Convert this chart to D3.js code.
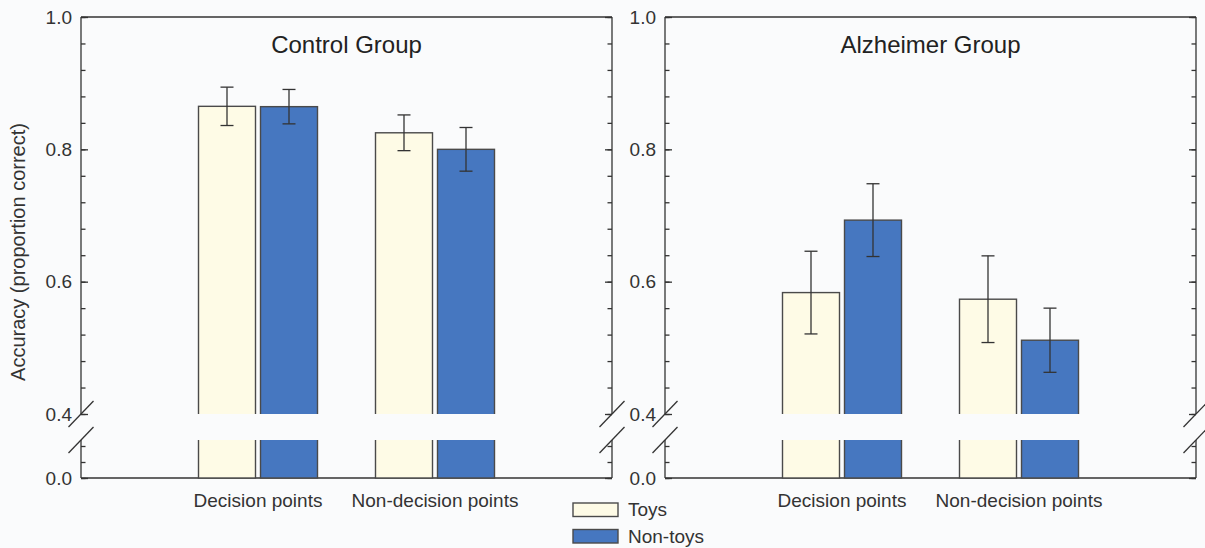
<!DOCTYPE html>
<html>
<head>
<meta charset="utf-8">
<script src="https://cdn.jsdelivr.net/npm/d3@7"></script>
<style>
  body { margin: 0; background: #fafbfc; }
  svg { display: block; font-family: "Liberation Sans", Arial, sans-serif; }
</style>
</head>
<body>
<div id="chart"></div>
<script>
// data
const categories = ["Decision points", "Non-decision points"];
const conditions = ["Toys", "Non-toys"];
const panelTitles = ["Control Group", "Alzheimer Group"];

const controlToys = [0.865, 0.825];
const controlToysErr = [0.029, 0.027];
const controlNonToys = [0.8645, 0.800];
const controlNonToysErr = [0.026, 0.033];

const alzToys = [0.5835, 0.5735];
const alzToysErr = [0.0625, 0.0655];
const alzNonToys = [0.693, 0.5115];
const alzNonToysErr = [0.055, 0.0485];

const majorTicks = [0.4, 0.6, 0.8, 1.0];
const minorTicks = d3.range(0.4, 1.0001, 0.04);
const lowerTicks = [0.0, 0.04, 0.08];
const lowerMajor = [0.0];

const colors = { "Toys": "#fefbe6", "Non-toys": "#4677c0" };

const panels = [
    { title: panelTitles[0], x0: 81, series: { "Toys": [controlToys, controlToysErr], "Non-toys": [controlNonToys, controlNonToysErr] } },
    { title: panelTitles[1], x0: 665, series: { "Toys": [alzToys, alzToysErr], "Non-toys": [alzNonToys, alzNonToysErr] } }
];

const W = 1205, H = 548;
const panelW = 531;
const yTop = 17, yBottom = 478;
const breakTop = 414, breakBottom = 440;
const ink = "#333";
const bg = "#fafbfc";

const svg = d3.select("#chart").append("svg")
    .attr("width", W).attr("height", H);

// broken y axis: upper 0.4-1.0, lower 0-0.095
const yUp = d3.scaleLinear().domain([0.4, 1.0]).range([breakTop, yTop]);
const yLow = d3.scaleLinear().domain([0, 0.095]).range([yBottom, breakBottom]);

const x = d3.scalePoint().domain(categories).range([0, panelW]).padding(1);
const xSub = d3.scaleBand().domain(conditions).range([-59.5, 59.5]).paddingInner(0.0806);

panels.forEach(p => {
    const g = svg.append("g").attr("transform", `translate(${p.x0},0)`);

    // top + bottom frame
    g.append("line").attr("x1", 0).attr("x2", panelW).attr("y1", yTop).attr("y2", yTop)
        .attr("stroke", ink).attr("stroke-width", 1.3);
    g.append("line").attr("x1", 0).attr("x2", panelW).attr("y1", yBottom).attr("y2", yBottom)
        .attr("stroke", ink).attr("stroke-width", 1.3);

    // left and right axes
    [0, panelW].forEach((xx, side) => {
        const mk = s => side === 0 ? d3.axisLeft(s) : d3.axisRight(s);
        const ag = g.append("g").attr("transform", `translate(${xx},0)`);

        ag.append("g")
            .call(mk(yUp).tickValues(minorTicks).tickSize(-4.5).tickFormat(""))
            .call(a => a.select(".domain").remove());
        ag.append("g")
            .call(mk(yUp).tickValues(majorTicks).tickSize(-7).tickPadding(9)
                .tickFormat(side === 0 ? d3.format(".1f") : ""))
            .call(a => a.select(".domain").remove());
        ag.append("g")
            .call(mk(yLow).tickValues(lowerTicks).tickSize(-4.5).tickFormat(""))
            .call(a => a.select(".domain").remove());
        ag.append("g")
            .call(mk(yLow).tickValues(lowerMajor).tickSize(-7).tickPadding(9)
                .tickFormat(side === 0 ? d3.format(".1f") : ""))
            .call(a => a.select(".domain").remove());

        ag.selectAll(".tick line").attr("stroke", ink).attr("stroke-width", 1.3);
        ag.selectAll(".tick text").attr("fill", ink).style("font-size", "19px")
            .attr("font-family", null);
        ag.selectAll("g").attr("font-family", null).attr("font-size", null);

        // axis line in two parts
        ag.append("line").attr("y1", yTop).attr("y2", breakTop)
            .attr("stroke", ink).attr("stroke-width", 1.3);
        ag.append("line").attr("y1", breakBottom).attr("y2", yBottom)
            .attr("stroke", ink).attr("stroke-width", 1.3);

        // break slashes
        [breakTop, breakBottom].forEach(yy => {
            ag.append("line")
                .attr("x1", -12.5).attr("y1", yy + 13)
                .attr("x2", 12.5).attr("y2", yy - 13)
                .attr("stroke", ink).attr("stroke-width", 1.3);
        });
    });

    // bars
    categories.forEach((c, i) => {
        conditions.forEach(k => {
            const v = p.series[k][0][i];
            const e = p.series[k][1][i];
            const bx = x(c) + xSub(k);
            const bw = xSub.bandwidth();

            g.append("rect")
                .attr("x", bx).attr("y", yUp(v))
                .attr("width", bw).attr("height", yLow(0) - yUp(v))
                .attr("fill", colors[k])
                .attr("stroke", "#4a4a4a").attr("stroke-width", 1.4);
            // gap for axis break
            g.append("rect")
                .attr("x", bx - 2).attr("y", breakTop)
                .attr("width", bw + 4).attr("height", breakBottom - breakTop)
                .attr("fill", bg);

            // error bar
            const cx = bx + bw / 2;
            g.append("line").attr("x1", cx).attr("x2", cx)
                .attr("y1", yUp(v + e)).attr("y2", yUp(v - e))
                .attr("stroke", ink).attr("stroke-width", 1.3);
            [v + e, v - e].forEach(t => {
                g.append("line").attr("x1", cx - 6.5).attr("x2", cx + 6.5)
                    .attr("y1", yUp(t)).attr("y2", yUp(t))
                    .attr("stroke", ink).attr("stroke-width", 1.3);
            });
        });

        g.append("text")
            .attr("x", x(c)).attr("y", 507)
            .attr("text-anchor", "middle")
            .attr("fill", ink)
            .style("font-size", "19px")
            .text(c);
    });

    g.append("text")
        .attr("x", panelW / 2).attr("y", 53)
        .attr("text-anchor", "middle")
        .attr("fill", "#222")
        .style("font-size", "24px")
        .text(p.title);
});

// y label
svg.append("text")
    .attr("transform", "translate(25,252) rotate(-90)")
    .attr("text-anchor", "middle")
    .attr("fill", ink)
    .style("font-size", "20px")
    .text("Accuracy (proportion correct)");

// legend
const legend = svg.append("g").attr("transform", "translate(573,503)");
conditions.forEach((k, i) => {
    legend.append("rect")
        .attr("x", 0).attr("y", i * 26.5)
        .attr("width", 45).attr("height", 13.5)
        .attr("fill", colors[k])
        .attr("stroke", "#4a4a4a").attr("stroke-width", 1.4);
    legend.append("text")
        .attr("x", 55).attr("y", i * 26.5 + 13)
        .attr("fill", ink)
        .style("font-size", "19px")
        .text(k);
});
</script>
</body>
</html>
